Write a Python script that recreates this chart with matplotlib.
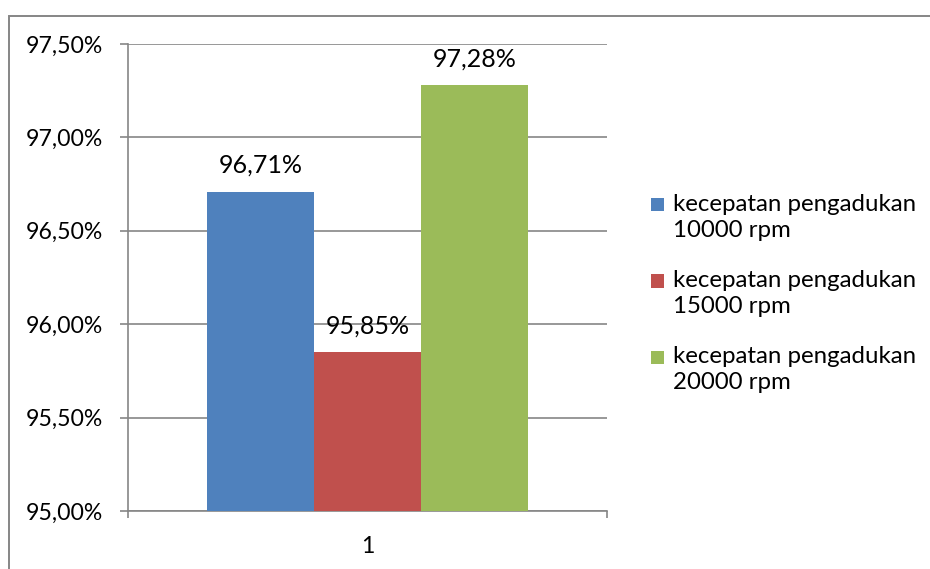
import matplotlib.pyplot as plt
from matplotlib.patches import Rectangle

plt.rcParams['font.family'] = ['Lato', 'DejaVu Sans']

# stirring speed results
categories = ['1']
series_names = ['kecepatan pengadukan\n10000 rpm',
                'kecepatan pengadukan\n15000 rpm',
                'kecepatan pengadukan\n20000 rpm']
values = [96.71, 95.85, 97.28]
colors = ['#4F81BD', '#C0504D', '#9BBB59']
yticks = [95.0, 95.5, 96.0, 96.5, 97.0, 97.5]

grid_color = '#868686'

fig = plt.figure(figsize=(9.3, 5.69), dpi=100)
ax = fig.add_axes([0.1376, 0.1019, 0.5151, 0.8207])

# outer chart frame (runs off the right and bottom edges)
fig.add_artist(Rectangle((0.0097, -0.1), 1.2, 0.9719 + 0.1, transform=fig.transFigure,
                         fill=False, edgecolor=grid_color, linewidth=1.4, clip_on=False))

bar_w = 0.2234
offsets = [-bar_w, 0, bar_w]
for name, val, col, off in zip(series_names, values, colors, offsets):
    ax.bar(1 + off, val - yticks[0], width=bar_w, bottom=yticks[0], color=col,
           label=name, zorder=3)
    ax.annotate(f'{val:.2f}%'.replace('.', ','), (1 + off, val), xytext=(0, 19),
                textcoords='offset points', ha='center', va='center', fontsize=18,
                color='black', zorder=4)

ax.set_xlim(0.5, 1.5)
ax.set_ylim(yticks[0], yticks[-1])
ax.set_yticks(yticks)
ax.set_yticklabels([f'{t:.2f}%'.replace('.', ',') for t in yticks], fontsize=16.6)
ax.yaxis.grid(True, color=grid_color, linewidth=1.2, zorder=0)
ax.set_axisbelow(True)

ax.set_xticks([1])
ax.set_xticklabels(categories, fontsize=16.6)
ax.set_xticks([0.5, 1.5], minor=True)
ax.tick_params(axis='x', which='major', length=0, pad=18)
ax.tick_params(axis='x', which='minor', length=5, width=1.2, color=grid_color, direction='out')
ax.tick_params(axis='y', length=6, width=1.2, color=grid_color, pad=12)

for side in ['top', 'right']:
    ax.spines[side].set_visible(False)
for side in ['left', 'bottom']:
    ax.spines[side].set_color(grid_color)
    ax.spines[side].set_linewidth(1.2)

# legend: square swatch beside the first line of each two-line label
for i, (name, col) in enumerate(zip(series_names, colors)):
    y = 1 - (205 + 76 * i) / 569
    fig.add_artist(Rectangle((651 / 930, y - 6.5 / 569), 13 / 930, 13 / 569,
                             transform=fig.transFigure, facecolor=col, edgecolor='none'))
    fig.text(673 / 930, y + 11 / 569, name, fontsize=17.3, va='top', ha='left',
             linespacing=1.3)

fig.savefig('out.png', dpi=100)
